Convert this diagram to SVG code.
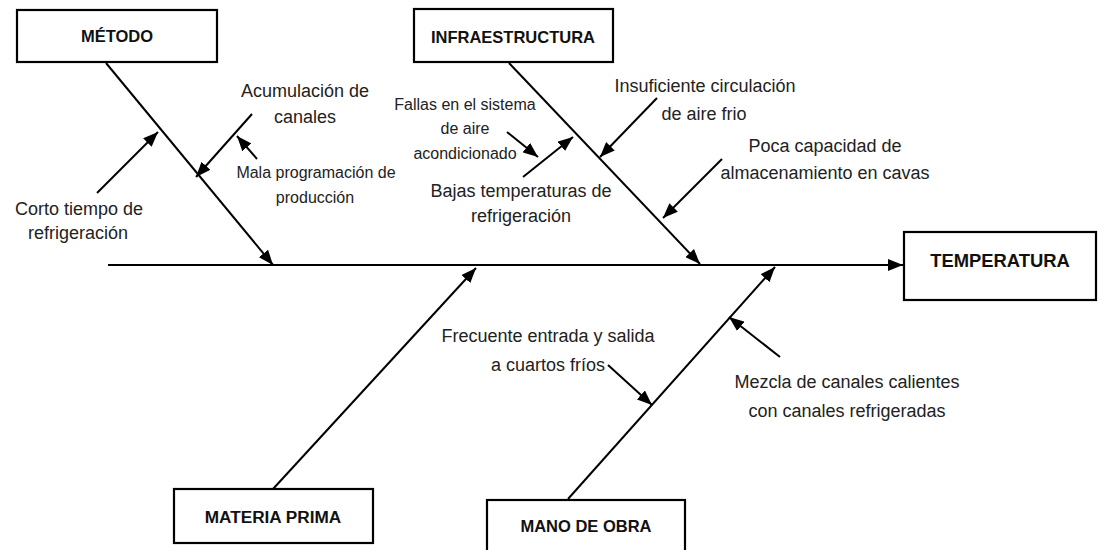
<svg xmlns="http://www.w3.org/2000/svg" width="1098" height="550" viewBox="0 0 1098 550">
  <style>
    .box { fill: #ffffff; stroke: #000000; stroke-width: 2.2; }
    .title { font-family: "Liberation Sans", Arial, sans-serif; font-weight: bold; font-size: 16.5px; fill: #111111; text-anchor: middle; }
    .lbl { font-family: "Liberation Sans", Arial, sans-serif; font-size: 18px; fill: #222222; text-anchor: middle; }
    .sm { font-size: 16px; }
    .arr { stroke: #000000; stroke-width: 2; fill: none; marker-end: url(#ah); }
  </style>
  <defs>
    <marker id="ah" markerUnits="userSpaceOnUse" markerWidth="16" markerHeight="12" refX="15" refY="6" orient="auto">
      <path d="M0,0 L15,6 L0,12 z" fill="#000000"/>
    </marker>
  </defs>
  <rect width="1098" height="550" fill="#ffffff"/>

  <g id="connectors">
    <line class="arr" x1="108" y1="265" x2="903" y2="265"/>
    <line class="arr" x1="106" y1="63" x2="273" y2="265"/>
    <line class="arr" x1="509" y1="63" x2="700" y2="264"/>
    <line class="arr" x1="273" y1="489" x2="476" y2="268"/>
    <line class="arr" x1="568" y1="499" x2="775" y2="267"/>
    <line class="arr" x1="97" y1="193" x2="158" y2="132"/>
    <line class="arr" x1="252" y1="114" x2="196" y2="177"/>
    <line class="arr" x1="257" y1="159" x2="237" y2="136"/>
    <line class="arr" x1="507" y1="132" x2="538" y2="157"/>
    <line class="arr" x1="523" y1="177" x2="573" y2="137"/>
    <line class="arr" x1="657" y1="98" x2="600" y2="157"/>
    <line class="arr" x1="722" y1="159" x2="663" y2="218"/>
    <line class="arr" x1="608" y1="365" x2="652" y2="405"/>
    <line class="arr" x1="780" y1="357" x2="729" y2="317"/>
  </g>

  <g id="metodo">
    <rect class="box" x="17" y="10" width="200" height="52"/>
    <text class="title" x="117" y="42">MÉTODO</text>
  </g>
  <g id="infraestructura">
    <rect class="box" x="414" y="9" width="199" height="53"/>
    <text class="title" x="513" y="43">INFRAESTRUCTURA</text>
  </g>
  <g id="temperatura">
    <rect class="box" x="904" y="232" width="192" height="68"/>
    <text class="title" x="1000" y="267" style="font-size:18.4px">TEMPERATURA</text>
  </g>
  <g id="materia-prima">
    <rect class="box" x="174" y="489" width="199" height="54"/>
    <text class="title" x="273" y="523" style="font-size:17.2px">MATERIA PRIMA</text>
  </g>
  <g id="mano-de-obra">
    <rect class="box" x="487" y="500" width="198" height="60"/>
    <text class="title" x="586" y="532">MANO DE OBRA</text>
  </g>

  <g id="corto-tiempo">
    <text class="lbl" x="79" y="215">Corto tiempo de</text>
    <text class="lbl" x="78" y="239">refrigeración</text>
  </g>
  <g id="acumulacion">
    <text class="lbl" x="305" y="97">Acumulación de</text>
    <text class="lbl" x="305" y="123">canales</text>
  </g>
  <g id="mala-programacion">
    <text class="lbl sm" x="316" y="178">Mala programación de</text>
    <text class="lbl sm" x="315" y="203">producción</text>
  </g>
  <g id="fallas">
    <text class="lbl sm" x="465" y="110">Fallas en el sistema</text>
    <text class="lbl sm" x="465" y="134">de aire</text>
    <text class="lbl sm" x="465" y="159">acondicionado</text>
  </g>
  <g id="bajas-temperaturas">
    <text class="lbl" x="521" y="197">Bajas temperaturas de</text>
    <text class="lbl" x="521" y="222">refrigeración</text>
  </g>
  <g id="insuficiente">
    <text class="lbl" x="705" y="92">Insuficiente circulación</text>
    <text class="lbl" x="704" y="120">de aire frio</text>
  </g>
  <g id="poca-capacidad">
    <text class="lbl" x="825" y="152">Poca capacidad de</text>
    <text class="lbl" x="825" y="179">almacenamiento en cavas</text>
  </g>
  <g id="frecuente">
    <text class="lbl" x="548" y="342">Frecuente entrada y salida</text>
    <text class="lbl" x="548" y="371">a cuartos fríos</text>
  </g>
  <g id="mezcla">
    <text class="lbl" x="847" y="388">Mezcla de canales calientes</text>
    <text class="lbl" x="847" y="417">con canales refrigeradas</text>
  </g>
</svg>
